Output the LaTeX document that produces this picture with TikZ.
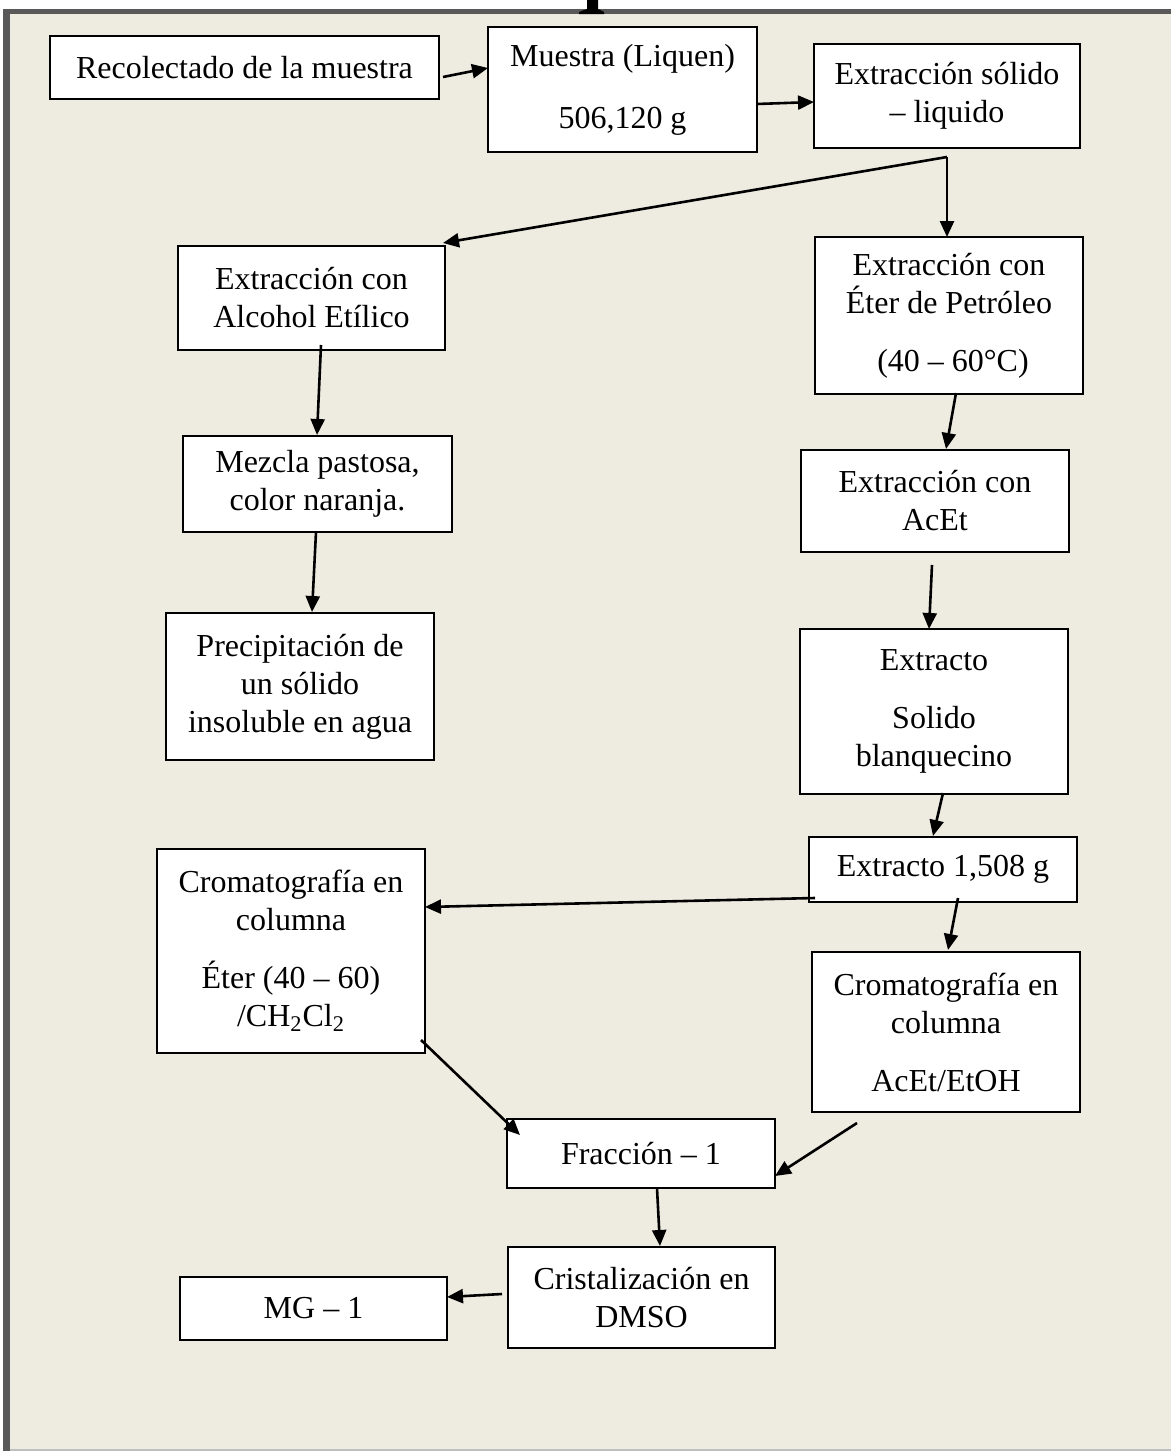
\documentclass[tikz,border=0pt]{standalone}
\usepackage{fontspec}
\setmainfont{Liberation Serif}
\usetikzlibrary{arrows.meta}
\definecolor{bgtan}{HTML}{EEECE1}
\definecolor{framegray}{HTML}{595959}
\begin{document}
\begin{tikzpicture}[x=0.5pt,y=-0.5pt,
 box/.style={draw=black, line width=1.1pt, fill=white, inner sep=0pt, align=center, font=\fontsize{16pt}{19pt}\selectfont},
 arr/.style={line width=1.3pt, -{Triangle[length=8pt,width=7pt]}}]
\useasboundingbox (0,0) rectangle (1171,1451);
\fill[white] (0,0) rectangle (1171,1451);
\fill[framegray] (3,9) rectangle (1171,1451);
\fill[bgtan] (10,14) rectangle (1171,1449);
\fill[black!25] (10,1449) rectangle (1171,1451);
\fill (587,0) -- (598,0) -- (598,9) -- (604,12) -- (604,14) -- (579,14) -- (579,12) -- (587,9) -- cycle;

% boxes
\node[box, minimum width=194.5pt, minimum height=31.5pt] (recol) at (244.5,67.5) {Recolectado de la muestra};
\node[box, minimum width=134.5pt, minimum height=62.5pt] (muestra) at (622.5,89.5) {Muestra (Liquen)\\[12pt]506,120 g};
\node[box, minimum width=133pt, minimum height=52pt] (solido) at (947,96) {Extracción sólido\\– liquido};
\node[box, minimum width=133.5pt, minimum height=52pt] (alcohol) at (311.5,298) {Extracción con\\Alcohol Etílico};
\node[box, minimum width=134pt, minimum height=78.5pt] (eter) at (949,315.5) {Extracción con\\Éter de Petróleo\\[10pt]\hspace*{4pt}(40 – 60°C)};
\node[box, minimum width=134pt, minimum height=51pt] (acet) at (935,501) {Extracción con\\AcEt};
\node[box, minimum width=134.5pt, minimum height=48pt] (mezcla) at (317.5,484) {Mezcla pastosa,\\color naranja.};
\node[box, minimum width=134pt, minimum height=73.5pt] (precip) at (300,686.5) {Precipitación de\\un sólido\\insoluble en agua};
\node[box, minimum width=134pt, minimum height=82.5pt] (extracto) at (934,711.5) {Extracto\\[10pt]Solido\\blanquecino};
\node[box, minimum width=134pt, minimum height=32.5pt] (ext1508) at (943,869.5) {Extracto 1,508 g};
\node[box, minimum width=134pt, minimum height=102pt] (cromEter) at (291,951) {Cromatografía en\\columna\\[10pt]Éter (40 – 60)\\/CH\textsubscript{2}Cl\textsubscript{2}};
\node[box, minimum width=134pt, minimum height=80pt] (cromAcet) at (946,1032) {Cromatografía en\\columna\\[10pt]AcEt/EtOH};
\node[box, minimum width=134pt, minimum height=34.5pt] (fraccion) at (641,1153.5) {Fracción – 1};
\node[box, minimum width=133.5pt, minimum height=50.5pt] (crist) at (641.5,1297.5) {Cristalización en\\DMSO};
\node[box, minimum width=133.5pt, minimum height=31.5pt] (mg) at (313.5,1308.5) {MG – 1};

% connector end points
\coordinate (s1) at (443,77);   \coordinate (e1) at (488,68);
\coordinate (s2) at (757,104);  \coordinate (e2) at (814,102);
\coordinate (br) at (947,157);
\coordinate (e3) at (443,243);  \coordinate (e4) at (947,237);
\coordinate (s5) at (321,345);  \coordinate (e5) at (317,435);
\coordinate (s6) at (316,532);  \coordinate (e6) at (312,612);
\coordinate (s7) at (956,393);  \coordinate (e7) at (946,449);
\coordinate (s8) at (932,565);  \coordinate (e8) at (929,629);
\coordinate (s9) at (943,793);  \coordinate (e9) at (933,836);
\coordinate (s10) at (815,898); \coordinate (e10) at (425,907);
\coordinate (s11) at (958,898); \coordinate (e11) at (948,950);
\coordinate (s12) at (421,1040);\coordinate (e12) at (520,1135);
\coordinate (s13) at (857,1123);\coordinate (e13) at (775,1176);
\coordinate (s14) at (657,1188);\coordinate (e14) at (660,1246);
\coordinate (s15) at (502,1294);\coordinate (e15) at (447,1297);

\draw[arr] (s1) -- (e1);
\draw[arr] (s2) -- (e2);
\draw[arr] (br) -- (e3);
\draw[arr] (br) -- (e4);
\draw[arr] (s5) -- (e5);
\draw[arr] (s6) -- (e6);
\draw[arr] (s7) -- (e7);
\draw[arr] (s8) -- (e8);
\draw[arr] (s9) -- (e9);
\draw[arr] (s10) -- (e10);
\draw[arr] (s11) -- (e11);
\draw[arr] (s12) -- (e12);
\draw[arr] (s13) -- (e13);
\draw[arr] (s14) -- (e14);
\draw[arr] (s15) -- (e15);
\end{tikzpicture}
\end{document}
